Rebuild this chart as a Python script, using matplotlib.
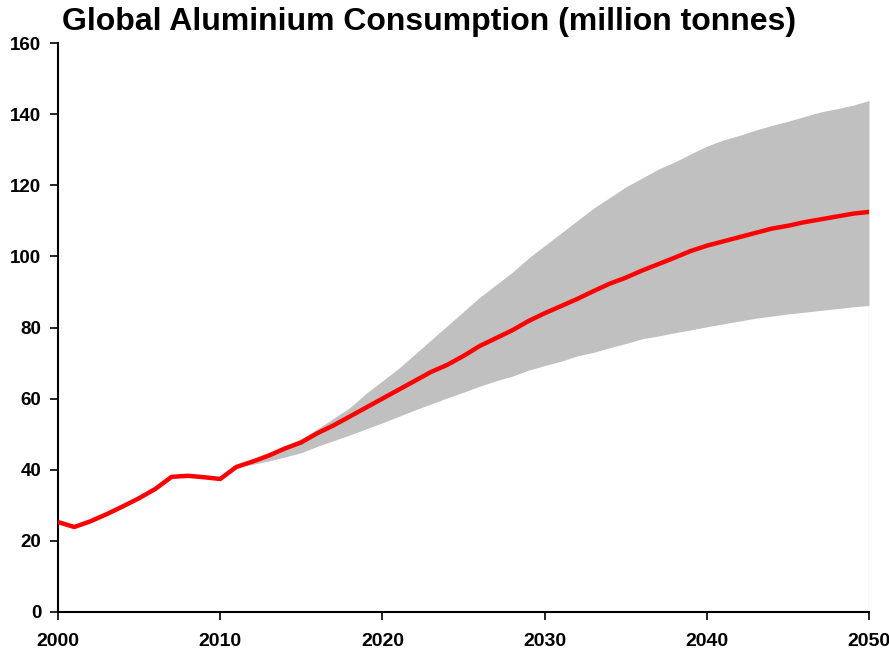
import matplotlib
matplotlib.use("Agg")
import matplotlib.pyplot as plt
import numpy as np

plt.rcParams['font.family'] = ['Liberation Sans', 'DejaVu Sans']

years = list(range(2000, 2051))
consumption = [25.3, 23.9, 25.5, 27.5, 29.7, 32.0, 34.6, 38.0, 38.3, 37.9,
               37.4, 40.8, 42.3, 44.0, 46.0, 47.7, 50.3, 52.5, 55.0, 57.5,
               60.0, 62.5, 65.0, 67.5, 69.5, 72.0, 74.8, 77.0, 79.2, 81.8,
               84.0, 86.0, 88.0, 90.2, 92.3, 94.0, 96.0, 97.8, 99.6, 101.5,
               103.0, 104.2, 105.4, 106.6, 107.8, 108.6, 109.6, 110.4, 111.2, 112.0,
               112.5]

band_years = list(range(2011, 2051))
upper = [40.8, 42.5, 44.3, 46.5, 48.7, 51.5, 54.5, 57.5, 61.5, 65.0,
         68.5, 72.5, 76.5, 80.5, 84.5, 88.5, 92.0, 95.5, 99.5, 103.0,
         106.5, 110.0, 113.5, 116.5, 119.5, 122.0, 124.5, 126.5, 128.8, 131.0,
         132.7, 134.0, 135.5, 136.8, 138.0, 139.3, 140.6, 141.5, 142.5, 143.8]
lower = [40.8, 41.5, 42.5, 43.6, 44.8, 46.6, 48.2, 49.8, 51.5, 53.2,
         55.0, 56.8, 58.5, 60.2, 61.8, 63.5, 65.0, 66.3, 68.0, 69.3,
         70.5, 72.0, 73.0, 74.3, 75.5, 76.8, 77.6, 78.5, 79.3, 80.2,
         81.0, 81.8, 82.6, 83.2, 83.8, 84.3, 84.8, 85.3, 85.8, 86.2]

title = "Global Aluminium Consumption (million tonnes)"
xticks = [2000, 2010, 2020, 2030, 2040, 2050]
yticks = [0, 20, 40, 60, 80, 100, 120, 140, 160]

fig = plt.figure(figsize=(8.89, 6.51), dpi=100)
ax = fig.add_axes([58/889, 1 - 612/651, (869 - 58)/889, (612 - 43)/651])

ax.fill_between(band_years, lower, upper, color='#C0C0C0', linewidth=0, zorder=1)
ax.plot([band_years[-1], band_years[-1]], [0, lower[-1]], color='#808080', lw=0.8, zorder=1)
ax.plot(years, consumption, color='#FF0000', lw=3.2, solid_joinstyle='round', zorder=3)

ax.set_xlim(2000, 2050)
ax.set_ylim(0, 160)
ax.set_xticks(xticks)
ax.set_yticks(yticks)
ax.spines['top'].set_visible(False)
ax.spines['right'].set_visible(False)
for s in ['left', 'bottom']:
    ax.spines[s].set_linewidth(1.5)
    ax.spines[s].set_color('black')
ax.tick_params(axis='y', length=6, width=1.2, pad=6, labelsize=13.5)
ax.tick_params(axis='x', length=6, width=1.2, pad=9, labelsize=14)
for lab in ax.get_xticklabels() + ax.get_yticklabels():
    lab.set_fontweight('bold')

fig.text(62/889, 1 - 22/651, title, fontsize=23, fontweight='bold', ha='left', va='center')

fig.savefig('out.png', dpi=100)
